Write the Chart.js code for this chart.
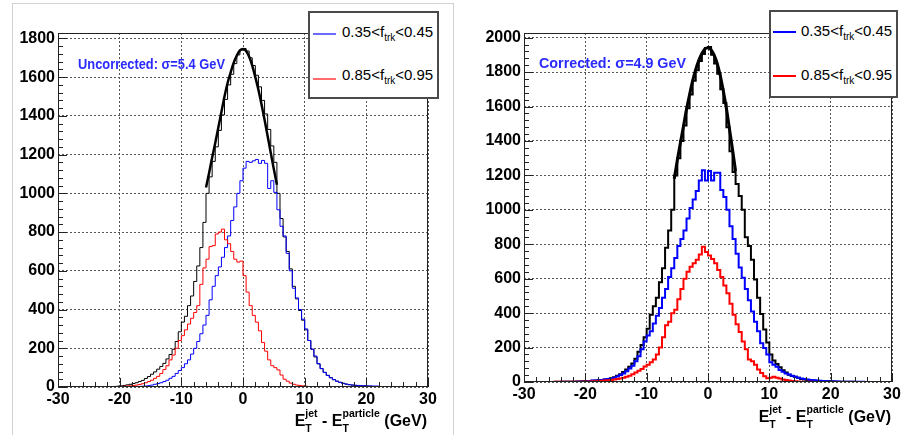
<!DOCTYPE html>
<html>
<head>
<meta charset="utf-8">
<script src="https://cdn.jsdelivr.net/npm/chart.js@4.4.0/dist/chart.umd.min.js"></script>
<style>
body { margin:0; background:#fff; width:912px; height:435px; overflow:hidden; position:relative;
       font-family:"Liberation Sans", Arial, Helvetica, sans-serif; }
.panel { position:absolute; top:0; width:456px; height:435px; }
.panel canvas { position:absolute; left:0; top:0; }
.outer { position:absolute; left:12px; top:3px; width:440px; height:445px; border:1px solid #d2d2d2; }
.note { position:absolute; font-size:15.5px; font-weight:bold; line-height:15px; color:#2a2aff;
        white-space:nowrap; display:inline-block; transform-origin:0 0; }
.leg { position:absolute; box-sizing:border-box; background:#fff; border:2px solid #4a4a4a; }
.leg .ln { position:absolute; width:23px; }
.leg .lt { position:absolute; font-size:15px; line-height:15px; white-space:nowrap; color:#000; }
.leg sub { font-size:10px; vertical-align:-4px; line-height:0; }
.xt { position:absolute; font-size:16px; font-weight:bold; line-height:30px; white-space:nowrap; color:#000; }
.xt .ss { display:inline-block; position:relative; font-size:10.5px; line-height:10px; vertical-align:9px; }
.xt .ss .sb { position:absolute; left:0; top:15px; }
</style>
</head>
<body>

<div class="panel" style="left:0">
  <div class="outer"></div>
  <canvas id="c1" width="456" height="435"></canvas>
  <div class="note" id="n1" style="left:78px;top:56px">Uncorrected: σ=5.4 GeV</div>
  <div class="leg" style="left:308px;top:11px;width:131px;height:88px">
    <div class="ln" style="left:3px;top:20px;height:1.5px;background:#6a6aff"></div>
    <div class="lt" style="left:32px;top:11px">0.35&lt;f<sub>trk</sub>&lt;0.45</div>
    <div class="ln" style="left:3px;top:65px;height:1.5px;background:#ff6a6a"></div>
    <div class="lt" style="left:32px;top:54px">0.85&lt;f<sub>trk</sub>&lt;0.95</div>
  </div>
  <div class="xt" style="right:29px;top:406px">E<span class="ss">jet<span class="sb">T</span></span> - E<span class="ss">particle<span class="sb">T</span></span> (GeV)</div>
</div>

<div class="panel" style="left:456px">
  <canvas id="c2" width="456" height="435"></canvas>
  <div class="note" id="n2" style="left:83px;top:55px">Corrected: σ=4.9 GeV</div>
  <div class="leg" style="left:313px;top:10px;width:129px;height:88px">
    <div class="ln" style="left:2px;top:19px;height:2px;background:#0000ff"></div>
    <div class="lt" style="left:30px;top:11px">0.35&lt;f<sub>trk</sub>&lt;0.45</div>
    <div class="ln" style="left:2px;top:63px;height:2px;background:#ff0000"></div>
    <div class="lt" style="left:30px;top:55px">0.85&lt;f<sub>trk</sub>&lt;0.95</div>
  </div>
  <div class="xt" style="right:21px;top:402px">E<span class="ss">jet<span class="sb">T</span></span> - E<span class="ss">particle<span class="sb">T</span></span> (GeV)</div>
</div>

<script>
// histogram binning: 120 bins of 0.5 GeV from -30 to 30
var binLow = -30;
var binWidth = 0.5;
var xMin = -30, xMax = 30, xStep = 10, xMinorStep = 2;
var yStep = 200, yMinorStep = 40;

// uncorrected panel
var uncBlack = [
  0,0,0,0,0,0,0,0,0,0, 0,0,0,0,0,0,1,2,3,4,
  6,8,11,14,18,22,28,34,44,54, 66,78,92,106,122,145,168,195,235,285,
  335,365,420,470,545,625,720,850,1000,1085, 1165,1240,1325,1405,1485,1560,1615,1670,1715,1740,
  1748,1735,1700,1660,1610,1550,1480,1410,1330,1245, 1160,1000,870,775,700,610,520,455,395,345,
  295,240,195,155,120,95,76,60,48,38, 30,24,19,15,12,10,8,7,6,5,
  4,3,2,1,0,0,0,0,0,0, 0,0,0,0,0,0,0,0,0,0
];
var uncBlue = [
  0,0,0,0,0,0,0,0,0,0, 0,0,0,0,0,0,0,0,0,0,
  0,0,0,0,1,2,3,4,5,7, 10,14,18,22,28,35,45,55,70,85,
  100,120,140,170,200,235,275,320,370,450, 520,575,620,670,720,780,860,930,1000,1065,
  1130,1165,1160,1168,1175,1155,1170,1155,1025,1065, 1005,915,830,780,690,600,510,460,400,350,
  300,240,195,160,120,95,75,60,48,38, 30,24,19,15,12,10,9,8,7,7,
  6,6,5,5,0,0,0,0,0,0, 0,0,0,0,0,0,0,0,0,0
];
var uncRed = [
  0,0,0,0,0,0,0,0,0,0, 0,0,0,0,0,0,1,1,2,2,
  3,4,5,6,8,10,13,17,22,28, 35,45,55,70,90,110,140,165,200,240,
  265,295,325,355,385,420,530,615,660,725, 730,790,800,815,760,740,700,660,645,650,
  575,490,420,370,335,290,230,185,140,110, 100,88,62,40,30,20,14,10,8,6,
  4,2,0,0,0,0,0,0,0,0, 0,0,0,0,0,0,0,0,0,0,
  0,0,0,0,0,0,0,0,0,0, 0,0,0,0,0,0,0,0,0,0
];
var uncFitX = [-6,-5.5,-5,-4.5,-4,-3.5,-3,-2.5,-2,-1.5,-1,-0.5,0,0.5,1,1.5,2,2.5,3,3.5,4,4.5,5,5.5];
var uncFitY = [1030,1105,1185,1260,1340,1420,1500,1570,1625,1675,1712,1738,1745,1735,1705,1660,1600,1535,1460,1380,1295,1210,1125,1045];
var uncYMax = 1828;

// corrected panel
var corBlack = [
  0,0,0,0,0,0,0,0,0,0, 1,1,1,1,2,2,2,3,3,4,
  5,6,7,8,10,12,15,18,22,28, 36,45,58,72,88,108,135,175,215,260,
  310,390,440,490,580,660,780,880,1000,1200, 1300,1400,1490,1590,1670,1750,1810,1865,1905,1940,
  1945,1900,1850,1790,1700,1620,1480,1340,1220,1150, 1080,1000,840,790,710,595,490,395,305,230,
  160,125,105,85,68,55,42,35,30,24, 18,15,12,10,8,7,6,5,4,4,
  3,3,2,2,1,1,1,1,0,0, 0,0,0,0,0,0,0,0,0,0
];
var corBlue = [
  0,0,0,0,0,0,0,0,0,0, 0,0,1,1,1,2,2,2,3,3,
  5,6,8,9,10,12,14,17,20,25, 32,40,50,62,78,95,120,150,190,235,
  270,295,340,385,430,490,540,610,660,720, 790,830,880,950,1010,1060,1110,1170,1230,1170,
  1225,1170,1215,1215,1115,1075,1000,905,830,745, 665,605,540,475,410,350,295,225,198,160,
  115,100,88,70,60,50,43,37,30,24, 20,17,14,12,10,9,7,6,5,4,
  4,3,3,2,2,2,1,1,1,1, 1,0,0,0,0,0,0,0,0,0
];
var corRed = [
  0,0,0,0,0,0,0,0,0,0, 1,1,1,1,1,2,2,2,2,3,
  3,3,4,5,6,7,9,10,12,14, 17,21,25,30,36,45,55,65,75,90,
  100,115,130,160,200,260,330,350,400,420, 480,540,600,640,670,690,710,740,785,755,
  735,715,690,650,610,560,515,455,390,335, 290,235,190,130,120,100,72,52,33,22,
  25,31,25,20,14,12,8,6,4,3, 2,2,1,1,0,0,0,0,0,0,
  0,0,0,0,0,0,0,0,0,0, 0,0,0,0,0,0,0,0,0,0
];
var corFitX = [-5.5,-5,-4.5,-4,-3.5,-3,-2.5,-2,-1.5,-1,-0.5,0,0.5,1,1.5,2,2.5,3,3.5,4,4.5];
var corFitY = [1180,1290,1390,1485,1585,1670,1750,1815,1868,1908,1935,1942,1930,1898,1850,1780,1690,1590,1470,1350,1225];
var corYMax = 2027;

Chart.defaults.font.family = "'Liberation Sans', Arial, Helvetica, sans-serif";
Chart.defaults.color = '#000';

function histPoints(vals) {
  var pts = [];
  for (var i = 0; i < vals.length; i++) {
    pts.push({x: binLow + i * binWidth, y: vals[i]});
  }
  pts.push({x: binLow + vals.length * binWidth, y: vals[vals.length - 1]});
  return pts;
}

function curvePoints(xs, ys) {
  var pts = [];
  for (var i = 0; i < xs.length; i++) pts.push({x: xs[i], y: ys[i]});
  return pts;
}

// fixed tick positions (Chart.js would otherwise respace them to fit min/max)
function stepTicks(from, to, step) {
  return function(s) {
    var t = [];
    for (var v = from; v <= (to === null ? s.max : to) + 1e-9; v += step) t.push({value: v});
    s.ticks = t;
  };
}

// ROOT style frame + inward minor/major ticks
var rootFrame = {
  id: 'rootFrame',
  afterDraw: function(chart) {
    var ctx = chart.ctx, a = chart.chartArea;
    var xs = chart.scales.x, ys = chart.scales.y;
    ctx.save();
    ctx.strokeStyle = '#222';
    ctx.lineWidth = 1;
    ctx.beginPath();
    for (var v = xMin; v <= xMax + 1e-9; v += xMinorStep) {
      var px = Math.round(xs.getPixelForValue(v)) + 0.5;
      var len = (Math.round(v) % xStep === 0) ? 9 : 5;
      ctx.moveTo(px, a.bottom);
      ctx.lineTo(px, a.bottom - len);
    }
    for (var w = 0; w <= ys.max; w += yMinorStep) {
      var py = Math.round(ys.getPixelForValue(w)) + 0.5;
      var l2 = (w % yStep === 0) ? 9 : 5;
      ctx.moveTo(a.left, py);
      ctx.lineTo(a.left + l2, py);
    }
    ctx.stroke();
    ctx.strokeRect(a.left + 0.5, a.top + 0.5, a.right - a.left - 1, a.bottom - a.top - 1);
    ctx.restore();
  }
};

function makeChart(id, o) {
  var lineDs = function(pts, col, w, step) {
    return {
      data: pts, borderColor: col, borderWidth: w, pointRadius: 0, fill: false,
      stepped: step ? 'before' : false, tension: 0,
      cubicInterpolationMode: step ? 'default' : 'monotone'
    };
  };
  return new Chart(document.getElementById(id), {
    type: 'line',
    data: {
      datasets: [
        lineDs(curvePoints(o.fitX, o.fitY), '#000', o.fitW, false),
        lineDs(histPoints(o.red), '#ff0000', o.lw, true),
        lineDs(histPoints(o.blue), '#0000ff', o.lw, true),
        lineDs(histPoints(o.black), '#000000', o.lw, true)
      ]
    },
    options: {
      responsive: false,
      animation: false,
      events: [],
      layout: { padding: { left: 6, right: o.padRight, top: 33, bottom: 0 } },
      plugins: { legend: { display: false }, tooltip: { enabled: false } },
      scales: {
        x: {
          type: 'linear', min: xMin, max: xMax,
          afterBuildTicks: stepTicks(xMin, xMax, xStep),
          afterFit: function(s) { s.height = o.xHeight; },
          ticks: { padding: 3, maxRotation: 0, autoSkip: false,
                   font: { size: 16, weight: 'bold' },
                   callback: function(v) { return String(v); } },
          grid: { color: '#555', lineWidth: 1, drawTicks: false },
          border: { display: false, dash: [2, 2] }
        },
        y: {
          type: 'linear', min: 0, max: o.yMax,
          afterBuildTicks: stepTicks(0, null, yStep),
          afterFit: function(s) { s.width = o.yWidth; },
          ticks: { padding: 3, autoSkip: false,
                   font: { size: 16, weight: 'bold' },
                   callback: function(v) { return String(v); } },
          grid: { color: '#555', lineWidth: 1, drawTicks: false },
          border: { display: false, dash: [2, 2] }
        }
      }
    },
    plugins: [rootFrame]
  });
}

makeChart('c1', { black: uncBlack, blue: uncBlue, red: uncRed, fitX: uncFitX, fitY: uncFitY,
  yMax: uncYMax, yWidth: 52, xHeight: 48, padRight: 28, lw: 1, fitW: 2.5 });
makeChart('c2', { black: corBlack, blue: corBlue, red: corRed, fitX: corFitX, fitY: corFitY,
  yMax: corYMax, yWidth: 62, xHeight: 53, padRight: 20, lw: 2, fitW: 3 });

// squeeze the annotation texts to the width they have in the picture
['n1', 'n2'].forEach(function(id) {
  var el = document.getElementById(id);
  var w = el.getBoundingClientRect().width;
  if (w > 147) el.style.transform = 'scaleX(' + (147 / w) + ')';
});
</script>
</body>
</html>
